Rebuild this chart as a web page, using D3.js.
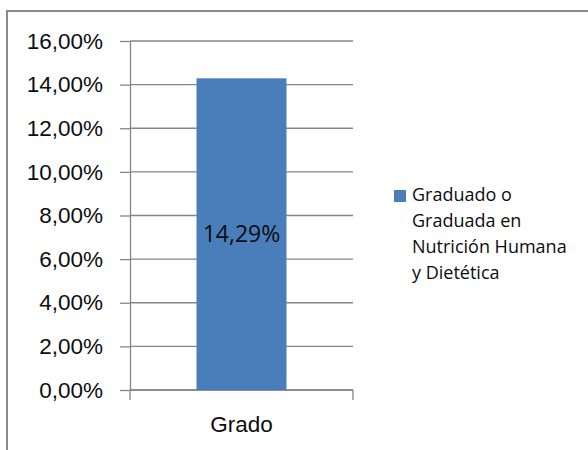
<!DOCTYPE html>
<html>
<head>
<meta charset="utf-8">
<script src="https://cdn.jsdelivr.net/npm/d3@7"></script>
<style>
    body { margin: 0; background: #fff; }
    svg { display: block; font-family: "Open Sans", sans-serif; }
    .grid line { stroke: #868686; stroke-width: 1.3; }
    .axis path, .axis line { stroke: #868686; stroke-width: 1.3; }
    .axis text { font-size: 22.5px; fill: #0d0d0d; }
</style>
</head>
<body>
<div class="container"></div>
<script>
"use strict";

var categories = ["Grado"];
var values = [14.29];
var valueLabels = ["14,29%"];
var seriesName = ["Graduado o", "Graduada en", "Nutrición Humana", "y Dietética"];
var yTicks = [0, 2, 4, 6, 8, 10, 12, 14, 16];
var yTickLabels = ["0,00%", "2,00%", "4,00%", "6,00%", "8,00%", "10,00%", "12,00%", "14,00%", "16,00%"];

var width = 588;
var height = 450;
var barColor = "#4a7ebb";

var svg = d3.select(".container").append("svg")
    .attr("width", width)
    .attr("height", height);

// Chart area frame (only top and left edges fall inside the picture)
svg.append("path")
    .attr("d", "M7,450V11H588")
    .attr("fill", "none")
    .attr("stroke", "#8a8a8a")
    .attr("stroke-width", 2);

var x = d3.scaleBand()
    .domain(categories)
    .range([130, 353])
    .padding(0.425);

var y = d3.scaleLinear()
    .domain([0, 16])
    .range([390, 41]);

// Horizontal gridlines
svg.append("g")
    .attr("class", "grid")
    .selectAll("line")
    .data(yTicks)
    .enter().append("line")
    .attr("x1", x.range()[0])
    .attr("x2", x.range()[1])
    .attr("y1", function(d) { return y(d); })
    .attr("y2", function(d) { return y(d); });

// Y axis
var yAxis = d3.axisLeft(y)
    .tickValues(yTicks)
    .tickFormat(function(d, i) { return yTickLabels[i]; })
    .tickSizeInner(10)
    .tickSizeOuter(0)
    .tickPadding(17);

svg.append("g")
    .attr("class", "axis")
    .attr("transform", "translate(" + x.range()[0] + ",0)")
    .call(yAxis);

// X axis, ticks sit on the category edges
var xAxis = d3.axisBottom(x)
    .tickSize(0)
    .tickPadding(26);

var xg = svg.append("g")
    .attr("class", "axis")
    .attr("transform", "translate(0," + y(0) + ")")
    .call(xAxis);

xg.select(".domain").remove();
xg.append("line")
    .attr("x1", x.range()[0])
    .attr("x2", x.range()[1]);
xg.selectAll(".edge")
    .data(x.range())
    .enter().append("line")
    .attr("class", "edge")
    .attr("x1", function(d) { return d; })
    .attr("x2", function(d) { return d; })
    .attr("y2", 10);

// Bars
svg.selectAll(".bar")
    .data(values)
    .enter().append("rect")
    .attr("class", "bar")
    .attr("x", function(d, i) { return x(categories[i]); })
    .attr("y", function(d) { return y(d); })
    .attr("width", x.bandwidth())
    .attr("height", function(d) { return y(0) - y(d); })
    .attr("fill", barColor);

// Value labels in the middle of the bar
svg.selectAll(".value-label")
    .data(values)
    .enter().append("text")
    .attr("class", "value-label")
    .attr("x", function(d, i) { return x(categories[i]) + x.bandwidth() / 2; })
    .attr("y", function(d) { return (y(d) + y(0)) / 2; })
    .attr("dy", "0.35em")
    .attr("text-anchor", "middle")
    .style("font-size", "23px")
    .attr("fill", "#0d0d0d")
    .text(function(d, i) { return valueLabels[i]; });

// Legend
var legend = svg.append("g")
    .attr("transform", "translate(394,190)");

legend.append("rect")
    .attr("width", 12)
    .attr("height", 12)
    .attr("fill", barColor);

legend.selectAll("text")
    .data(seriesName)
    .enter().append("text")
    .attr("x", 18)
    .attr("y", function(d, i) { return 5 + i * 26; })
    .attr("dy", "0.35em")
    .style("font-size", "18px")
    .attr("fill", "#0d0d0d")
    .text(function(d) { return d; });
</script>
</body>
</html>
